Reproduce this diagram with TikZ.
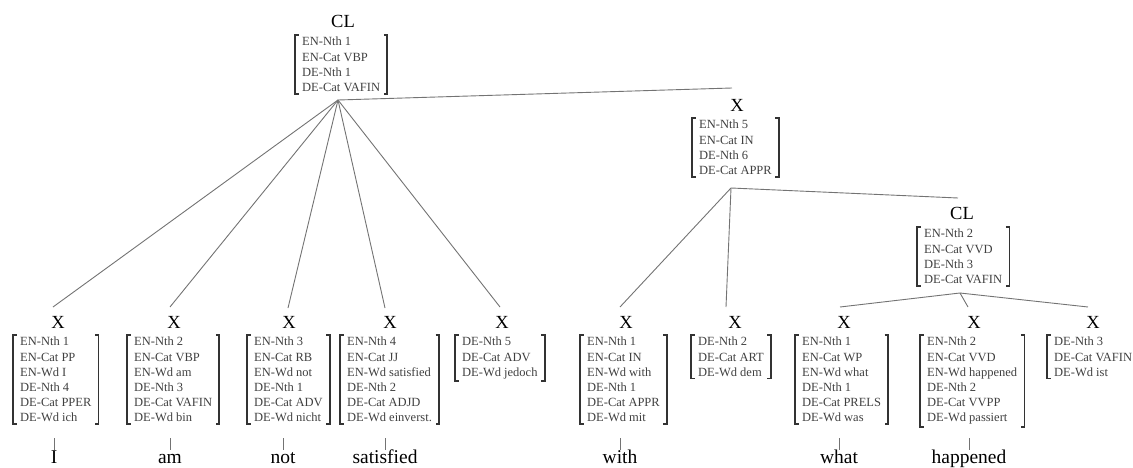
\documentclass[tikz,border=0pt]{standalone}
\usepackage{fontspec}
\setmainfont{Liberation Serif}
\begin{document}
\begin{tikzpicture}[x=1pt,y=-1pt,
  feat/.style={anchor=north west, align=left, inner xsep=7pt, inner ysep=2pt,
    font=\fontsize{12.5}{15.2}\selectfont, text=black!75},
  lab/.style={inner sep=0pt, font=\fontsize{18.5}{20}\selectfont},
  word/.style={anchor=base, inner sep=0pt, font=\fontsize{19.5}{22}\selectfont},
  edge/.style={draw=black!55, line width=0.9pt},
  brk/.style={draw=black!80, line width=1.6pt}]
\useasboundingbox (0,0) rectangle (1133,468);

% root CL
\node[lab] (lr) at (343,21) {CL};
\node[feat] (fr) at (295,35) {EN-Nth 1\\EN-Cat VBP\\DE-Nth 1\\DE-Cat VAFIN};
\coordinate (ar) at (338,100);

% middle X
\node[lab] (lm) at (737,105) {X};
\node[feat] (fm) at (692,118) {EN-Nth 5\\EN-Cat IN\\DE-Nth 6\\DE-Cat APPR};
\coordinate (tm) at (732,88);
\coordinate (am) at (731,188);

% lower CL
\node[lab] (lc) at (962,213) {CL};
\node[feat] (fc) at (917,227) {EN-Nth 2\\EN-Cat VVD\\DE-Nth 3\\DE-Cat VAFIN};
\coordinate (tc) at (958,198);
\coordinate (ac) at (960,293);

% leaves
\node[lab] (l1) at (58,322) {X};
\node[feat] (f1) at (13,335) {EN-Nth 1\\EN-Cat PP\\EN-Wd I\\DE-Nth 4\\DE-Cat PPER\\DE-Wd ich};
\coordinate (t1) at (53,307);

\node[lab] (l2) at (174,322) {X};
\node[feat] (f2) at (127,335) {EN-Nth 2\\EN-Cat VBP\\EN-Wd am\\DE-Nth 3\\DE-Cat VAFIN\\DE-Wd bin};
\coordinate (t2) at (170,307);

\node[lab] (l3) at (289,322) {X};
\node[feat] (f3) at (247,335) {EN-Nth 3\\EN-Cat RB\\EN-Wd not\\DE-Nth 1\\DE-Cat ADV\\DE-Wd nicht};
\coordinate (t3) at (288,308);

\node[lab] (l4) at (390,322) {X};
\node[feat] (f4) at (340,335) {EN-Nth 4\\EN-Cat JJ\\EN-Wd satisfied\\DE-Nth 2\\DE-Cat ADJD\\DE-Wd einverst.};
\coordinate (t4) at (385,308);

\node[lab] (l5) at (502,322) {X};
\node[feat] (f5) at (455,335) {DE-Nth 5\\DE-Cat ADV\\DE-Wd jedoch};
\coordinate (t5) at (500,307);

\node[lab] (l6) at (626,322) {X};
\node[feat] (f6) at (580,335) {EN-Nth 1\\EN-Cat IN\\EN-Wd with\\DE-Nth 1\\DE-Cat APPR\\DE-Wd mit};
\coordinate (t6) at (620,307);

\node[lab] (l7) at (735,322) {X};
\node[feat] (f7) at (691,335) {DE-Nth 2\\DE-Cat ART\\DE-Wd dem};
\coordinate (t7) at (726,307);

\node[lab] (l8) at (844,322) {X};
\node[feat] (f8) at (795,335) {EN-Nth 1\\EN-Cat WP\\EN-Wd what\\DE-Nth 1\\DE-Cat PRELS\\DE-Wd was};
\coordinate (t8) at (840,307);

\node[lab] (l9) at (974,322) {X};
\node[feat] (f9) at (920,335) {EN-Nth 2\\EN-Cat VVD\\EN-Wd happened\\DE-Nth 2\\DE-Cat VVPP\\DE-Wd passiert};
\coordinate (t9) at (968,307);

\node[lab] (l10) at (1093,322) {X};
\node[feat] (f10) at (1047,335) {DE-Nth 3\\DE-Cat VAFIN\\DE-Wd ist};
\coordinate (t10) at (1088,307);

% words
\node[word] (w1) at (54,463) {I};
\node[word] (w2) at (170,463) {am};
\node[word] (w3) at (283,463) {not};
\node[word] (w4) at (385,463) {satisfied};
\node[word] (w6) at (620,463) {with};
\node[word] (w8) at (839,463) {what};
\node[word] (w9) at (969,463) {happened};
\foreach \i/\x in {1/54,2/170,3/283,4/385,6/620,8/839,9/969}{
  \coordinate (b\i) at (\x,438);
  \coordinate (u\i) at (\x,450);
  \draw[edge] (b\i) -- (u\i);
}

% brackets
\foreach \n in {fr,fm,fc,f1,f2,f3,f4,f5,f6,f7,f8,f9,f10}{
  \draw[brk] ([xshift=3.5pt]\n.north west) -- (\n.north west) -- (\n.south west) -- ([xshift=3.5pt]\n.south west);
  \draw[brk] ([xshift=-3.5pt]\n.north east) -- (\n.north east) -- (\n.south east) -- ([xshift=-3.5pt]\n.south east);
}

% edges
\foreach \t in {t1,t2,t3,t4,t5,tm}{\draw[edge] (ar) -- (\t);}
\foreach \t in {t6,t7,tc}{\draw[edge] (am) -- (\t);}
\foreach \t in {t8,t9,t10}{\draw[edge] (ac) -- (\t);}
\end{tikzpicture}
\end{document}
